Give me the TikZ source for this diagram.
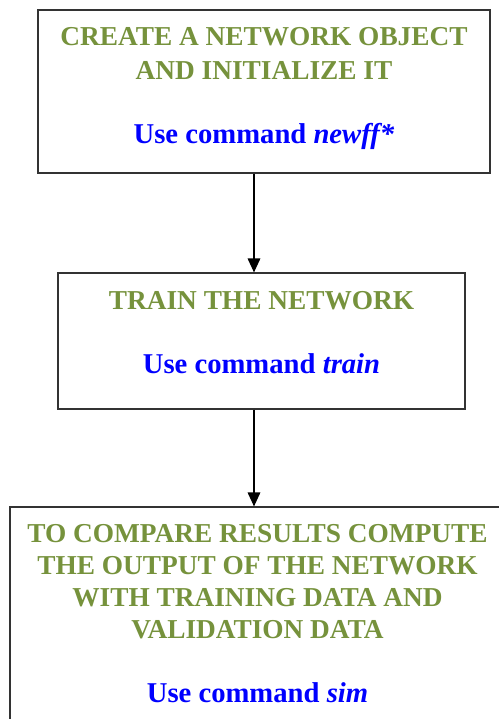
\documentclass[tikz,border=0pt]{standalone}
\usepackage{fontspec}
\setmainfont{Liberation Serif}
\usetikzlibrary{arrows.meta,positioning}
\definecolor{heading}{RGB}{118,146,60}
\definecolor{command}{RGB}{0,0,255}
\definecolor{frame}{RGB}{51,51,51}
\newcommand{\cmdline}[1]{{\color{command}\fontsize{21.5}{24}\selectfont Use command \textit{#1}}}

\begin{document}
\begin{tikzpicture}[x=0.75pt,y=-0.75pt,
  stage/.style={draw=frame,line width=0.9pt,rectangle,inner sep=0pt},
  caption/.style={align=center,inner sep=0pt,text=heading,
    font=\bfseries\fontsize{20.5}{24}\selectfont},
  flow/.style={line width=0.9pt,-{Triangle[length=10.5pt,width=9.5pt]}}]
\clip (0,0) rectangle (499,719);
% boxes
\node[stage,minimum width=339pt,minimum height=122.25pt] (create) at (264,91.5) {};
\node[stage,minimum width=305.25pt,minimum height=102pt] (train) at (261.5,341) {};
\node[stage,minimum width=371.25pt,minimum height=174.75pt] (compare) at (257.5,623.5) {};
% texts
\node[caption,anchor=base] (createtext) at (264,143)
  {CREATE A NETWORK OBJECT\\[1.5pt]AND INITIALIZE IT\\[24pt]\cmdline{newff*}};
\node[caption,anchor=base] (traintext) at (261.5,373)
  {TRAIN THE NETWORK\\[24pt]\cmdline{train}};
\node[caption,anchor=base] (comparetext) at (257.5,702)
  {TO COMPARE RESULTS COMPUTE\\THE OUTPUT OF THE NETWORK\\WITH TRAINING DATA AND\\VALIDATION DATA\\[24pt]\cmdline{sim}};
% arrows
\coordinate (spine) at (254,0);
\draw[flow] (create.south -| spine) -- (train.north -| spine);
\draw[flow] (train.south -| spine) -- (compare.north -| spine);
\end{tikzpicture}
\end{document}
